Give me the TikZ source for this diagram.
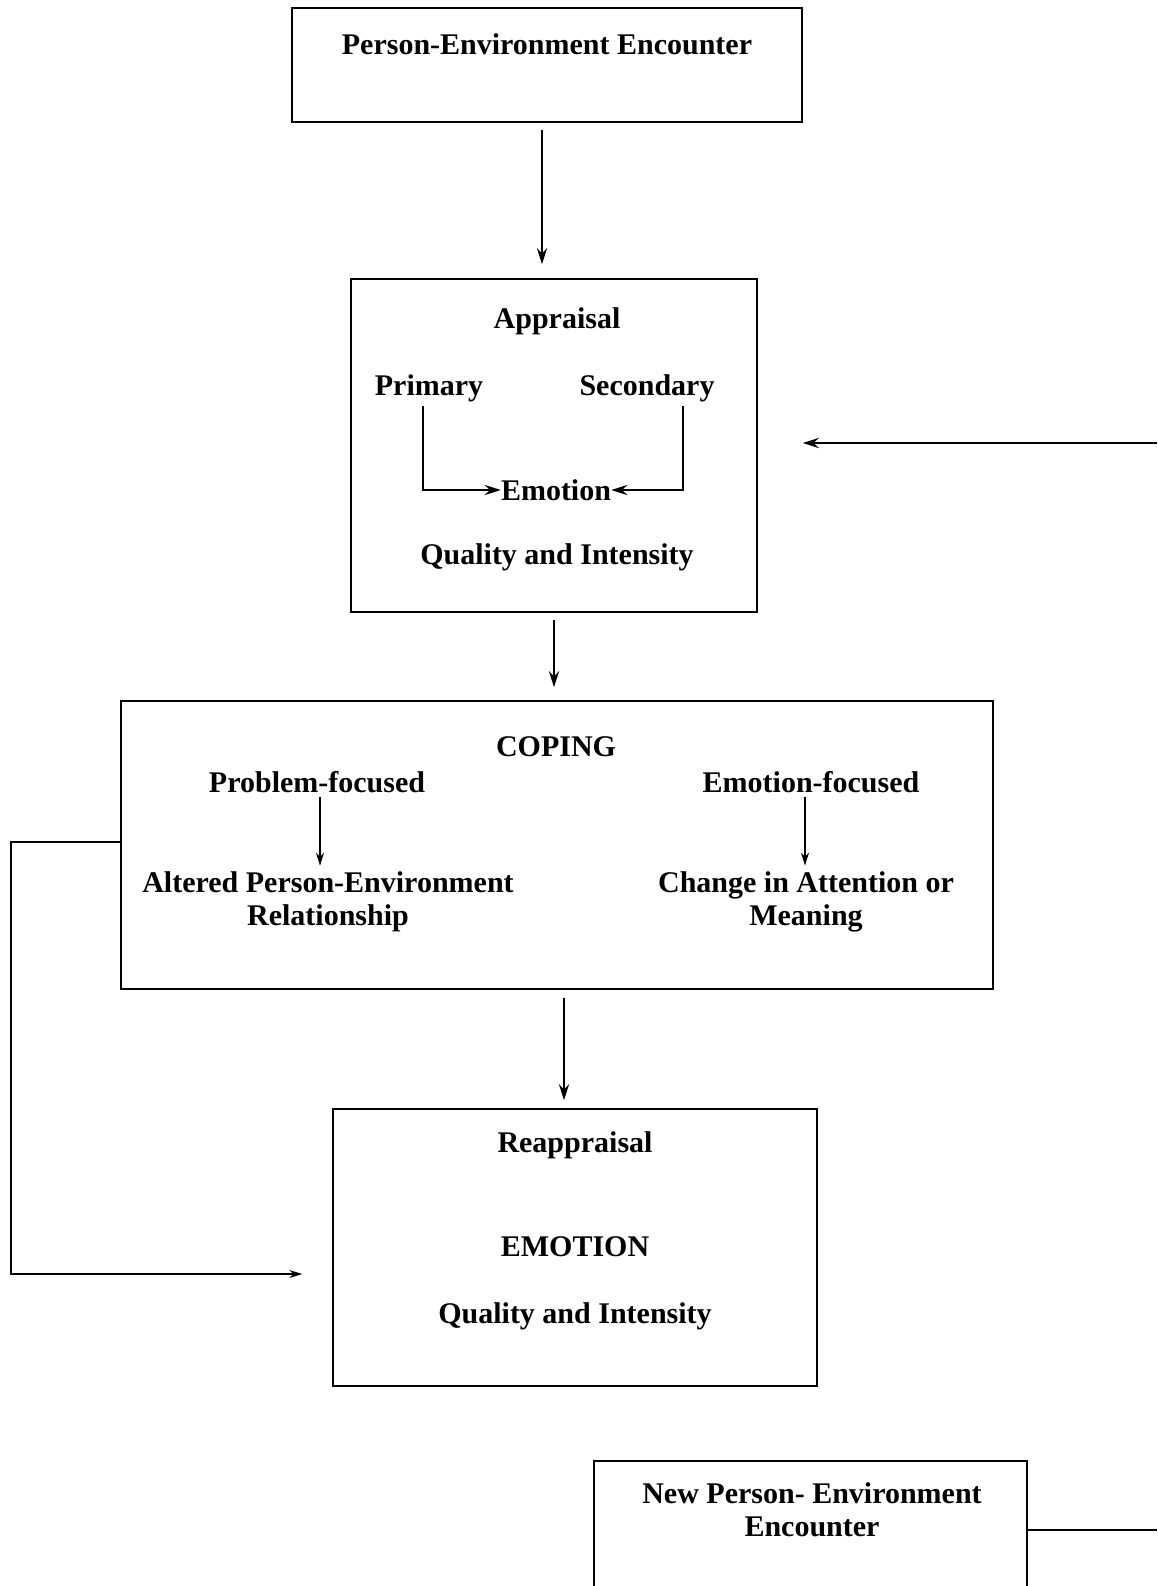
\documentclass[tikz,border=0pt]{standalone}
\usepackage{fontspec}
\setmainfont{Liberation Serif}
\usetikzlibrary{arrows.meta,calc}

\tikzset{
  box/.style={draw, line width=1.4pt, inner sep=0pt},
  lbl/.style={font=\fontsize{30}{33}\selectfont\bfseries, inner sep=0pt, align=center},
  arr/.style={line width=2.6pt, -{Stealth[length=16pt,width=10pt]}},
  thinarr/.style={line width=1.8pt, -{Stealth[length=13pt,width=8pt]}},
}

\begin{document}
\begin{tikzpicture}[x=1pt,y=-1pt]
  \useasboundingbox (0,0) rectangle (1157,1586);
  \clip (0,0) rectangle (1157,1586);

  % --- Boxes ---
  \node[box, minimum width=510pt, minimum height=114pt] (enc) at (547,65) {};
  \node[box, minimum width=406pt, minimum height=333pt] (appr) at (554,445.5) {};
  \node[box, minimum width=872pt, minimum height=288pt] (cop) at (557,845) {};
  \node[box, minimum width=484pt, minimum height=277pt] (reapp) at (575,1247.5) {};
  \node[box, minimum width=433pt, minimum height=160pt] (newenc) at (810.5,1541) {};

  % --- Texts ---
  \node[lbl] (enctxt) at (547,44) {Person-Environment Encounter};

  \node[lbl] (apprtxt) at (557,321) {Appraisal};
  \node[lbl] (prim) at (429,388) {Primary};
  \node[lbl] (sec) at (647,388) {Secondary};
  \node[lbl] (emo) at (556,490) {Emotion};
  \node[lbl] (qual) at (557,557) {Quality and Intensity};

  \node[lbl] (coptxt) at (556,747) {COPING};
  \node[lbl] (prob) at (317,782) {Problem-focused};
  \node[lbl] (emof) at (811,782) {Emotion-focused};
  \node[lbl] (alt) at (328,902) {Altered Person-Environment\\Relationship};
  \node[lbl] (chg) at (806,902) {Change in Attention or\\Meaning};

  \node[lbl] (reapptxt) at (575,1145) {Reappraisal};
  \node[lbl] (emocap) at (575,1247) {EMOTION};
  \node[lbl] (qual2) at (575,1316) {Quality and Intensity};

  \node[lbl] (newtxt) at (812,1510) {New Person- Environment\\Encounter};

  % --- Main flow ---
  \draw[arr, shorten <=7pt, shorten >=14pt] ([xshift=-5pt]enc.south) -- ([xshift=-5pt]enc.south |- appr.north);
  \draw[arr, shorten <=7pt, shorten >=13pt] (appr.south) -- (appr.south |- cop.north);
  \draw[arr, shorten <=8pt, shorten >=8pt] ([xshift=7pt]cop.south) -- ([xshift=7pt]cop.south |- reapp.north);

  % --- Inside appraisal ---
  \draw[arr, shorten <=4pt] ([xshift=-6pt]prim.south) |- (emo.west);
  \draw[arr, shorten <=4pt] ([xshift=36pt]sec.south) |- (emo.east);

  % --- Inside coping ---
  \draw[thinarr, shorten <=4pt, shorten >=6pt] ([xshift=3pt]prob.south) -- ([xshift=3pt]prob.south |- alt.north);
  \draw[thinarr, shorten <=4pt, shorten >=6pt] ([xshift=-6pt]emof.south) -- ([xshift=-6pt]emof.south |- chg.north);

  % --- Feedback loops ---
  \coordinate (lf) at (11,1274);
  \draw[thinarr] ([yshift=3pt]cop.west) -| (lf) -- ($(reapp.west |- lf)+(-30,0)$);

  \coordinate (rt) at (1157,443);
  \draw[arr] (rt) -- ($(appr.east |- rt)+(45,0)$);

  \coordinate (nr) at (1157,1530);
  \draw[line width=1.4pt] (newenc.east |- nr) -- (nr);

\end{tikzpicture}
\end{document}
